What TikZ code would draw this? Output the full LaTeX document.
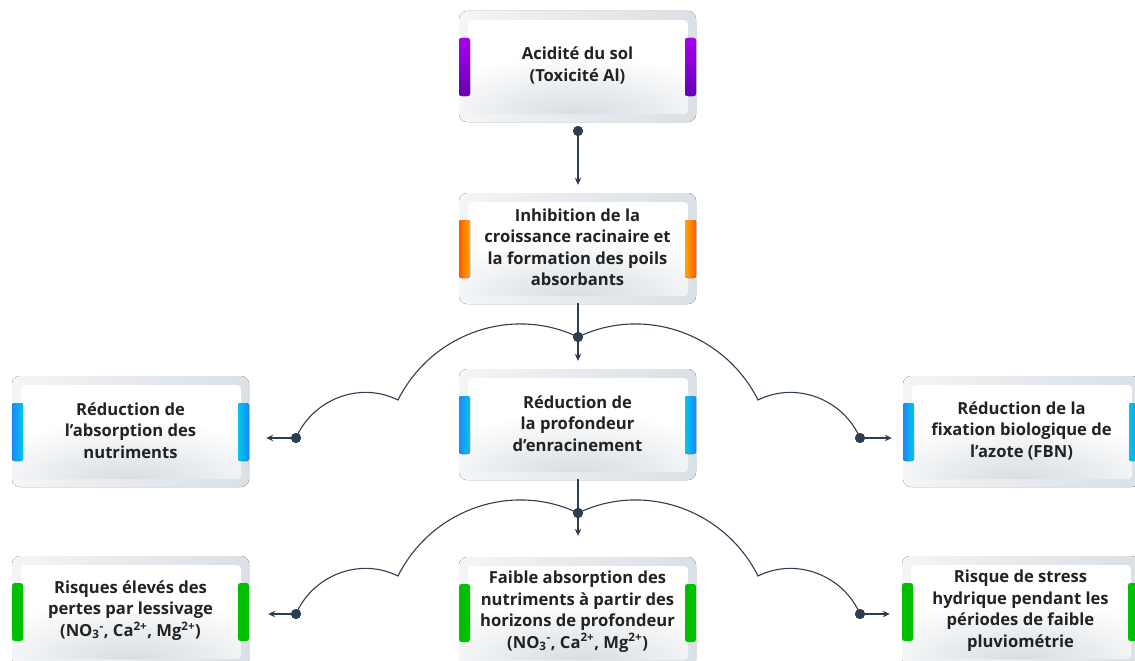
\documentclass[tikz,border=0pt]{standalone}
\usepackage{fontspec}
\setmainfont{Open Sans}
\usetikzlibrary{arrows.meta}
\definecolor{linec}{HTML}{2C3E50}
\definecolor{txtc}{HTML}{222222}
\definecolor{frameL}{HTML}{F3F5F7}
\definecolor{frameR}{HTML}{DAE0E5}
\definecolor{glow}{HTML}{D6DCE1}
\definecolor{purT}{HTML}{A800F0}
\definecolor{purB}{HTML}{6500B5}
\definecolor{orR}{HTML}{FF5A00}
\definecolor{orY}{HTML}{FFA800}
\definecolor{blB}{HTML}{1A88FF}
\definecolor{blC}{HTML}{00C8E8}
\definecolor{grn}{HTML}{00C000}
\tikzset{
  framefill/.style={left color=frameL, right color=frameR, rounded corners=8pt},
  barshape/.style={rounded corners=2.5pt},
  barpurple/.style={barshape, top color=purT, bottom color=purB},
  barorangeL/.style={barshape, left color=orR, right color=orY},
  barorangeR/.style={barshape, left color=orY, right color=orR},
  barblueL/.style={barshape, left color=blB, right color=blC},
  barblueR/.style={barshape, left color=blC, right color=blB},
  bargreen/.style={barshape, fill=grn},
  boxtext/.style={minimum width=237pt, minimum height=111pt, inner sep=0pt,
    align=center, text=txtc, font=\fontsize{16.6}{21.5}\selectfont\bfseries},
  dotn/.style={circle, fill=linec, inner sep=0pt, minimum size=10pt},
  conn/.style={draw=linec, line width=1.1pt},
  arr/.style={draw=linec, line width=1.3pt, -{Stealth[length=7pt,width=6.5pt]}},
  vline/.style={draw=linec, line width=1.3pt},
}
\newcommand\flowbox[6]{%
  \fill[framefill] (#2,#3) rectangle ++(237,111);
  \begin{scope}
    \clip[rounded corners=4pt] ({#2+9},{#3+9}) rectangle ({#2+229},{#3+103});
    \fill[white] ({#2+9},{#3+9}) rectangle ({#2+229},{#3+103});
    \shade[inner color=glow, outer color=white] ({#2+118},{#3+106}) ellipse (170pt and 62pt);
  \end{scope}
  \fill[#4] (#2,{#3+27}) rectangle ++(11,58);
  \fill[#5] ({#2+226},{#3+27}) rectangle ++(11,58);
  \node[boxtext] (#1) at ({#2+118.5},{#3+54.5}) {#6};
}
\newcommand\ions{(NO\textsubscript{3}\textsuperscript{-}, Ca\textsuperscript{2+}, Mg\textsuperscript{2+})}
\begin{document}
\begin{tikzpicture}[x=1pt,y=-1pt]
\useasboundingbox (0,0) rectangle (1135,661);
\clip (0,0) rectangle (1135,661);

\flowbox{b1}{459}{11}{barpurple}{barpurple}{Acidité du sol\\(Toxicité Al)}
\flowbox{b2}{459}{193}{barorangeL}{barorangeR}{Inhibition de la\\croissance racinaire et\\la formation des poils\\absorbants}
\flowbox{b3}{459}{369}{barblueL}{barblueR}{Réduction de\\la profondeur\\d’enracinement}
\flowbox{b4}{12}{376}{barblueL}{barblueR}{Réduction de\\l’absorption des\\nutriments}
\flowbox{b5}{903}{376}{barblueL}{barblueR}{Réduction de la\\fixation biologique de\\l’azote (FBN)}
\flowbox{b6}{459}{557}{bargreen}{bargreen}{Faible absorption des\\nutriments à partir des\\horizons de profondeur\\\ions}
\flowbox{b7}{12}{556}{bargreen}{bargreen}{Risques élevés des\\pertes par lessivage\\\ions}
\flowbox{b8}{902}{556}{bargreen}{bargreen}{Risque de stress\\hydrique pendant les\\périodes de faible\\pluviométrie}

% dots
\node[dotn] (d1) at (578,131) {};
\node[dotn] (J1) at (578,337) {};
\node[dotn] (dL1) at (296,438) {};
\node[dotn] (dR1) at (860,438) {};
\node[dotn] (J2) at (578,513) {};
\node[dotn] (dL2) at (296,614) {};
\node[dotn] (dR2) at (860,614) {};

% vertical connectors
\draw[arr, shorten >=7pt] (d1.center) -- (d1.center |- b2.north);
\draw[vline] (J1.center |- b2.south) -- (J1.center);
\draw[arr, shorten >=7pt] (J1.center) -- (J1.center |- b3.north);
\draw[vline] (J2.center |- b3.south) -- (J2.center);
\draw[arr, shorten >=20pt] (J2.center) -- (J2.center |- b6.north);

% arcs row 3
\draw[conn] (J1.center) .. controls (511,305) and (431,334) .. (398,400)
  .. controls (360,381) and (313,399) .. (dL1.center);
\draw[conn] (J1.center) .. controls (645,305) and (725,334) .. (758,400)
  .. controls (796,381) and (843,399) .. (dR1.center);
% arcs row 4
\draw[conn] (J2.center) .. controls (511,481) and (431,510) .. (398,576)
  .. controls (360,557) and (313,575) .. (dL2.center);
\draw[conn] (J2.center) .. controls (645,481) and (725,510) .. (758,576)
  .. controls (796,557) and (843,575) .. (dR2.center);

% side arrows
\draw[arr, shorten >=17pt] (dL1.center) -- (dL1.center -| b4.east);
\draw[arr, shorten >=11pt] (dR1.center) -- (dR1.center -| b5.west);
\draw[arr, shorten >=19pt] (dL2.center) -- (dL2.center -| b7.east);
\draw[arr, shorten >=12pt] (dR2.center) -- (dR2.center -| b8.west);

% dots on top
\foreach \n in {d1,J1,dL1,dR1,J2,dL2,dR2} \fill[linec] (\n.center) circle (5pt);
\end{tikzpicture}
\end{document}
